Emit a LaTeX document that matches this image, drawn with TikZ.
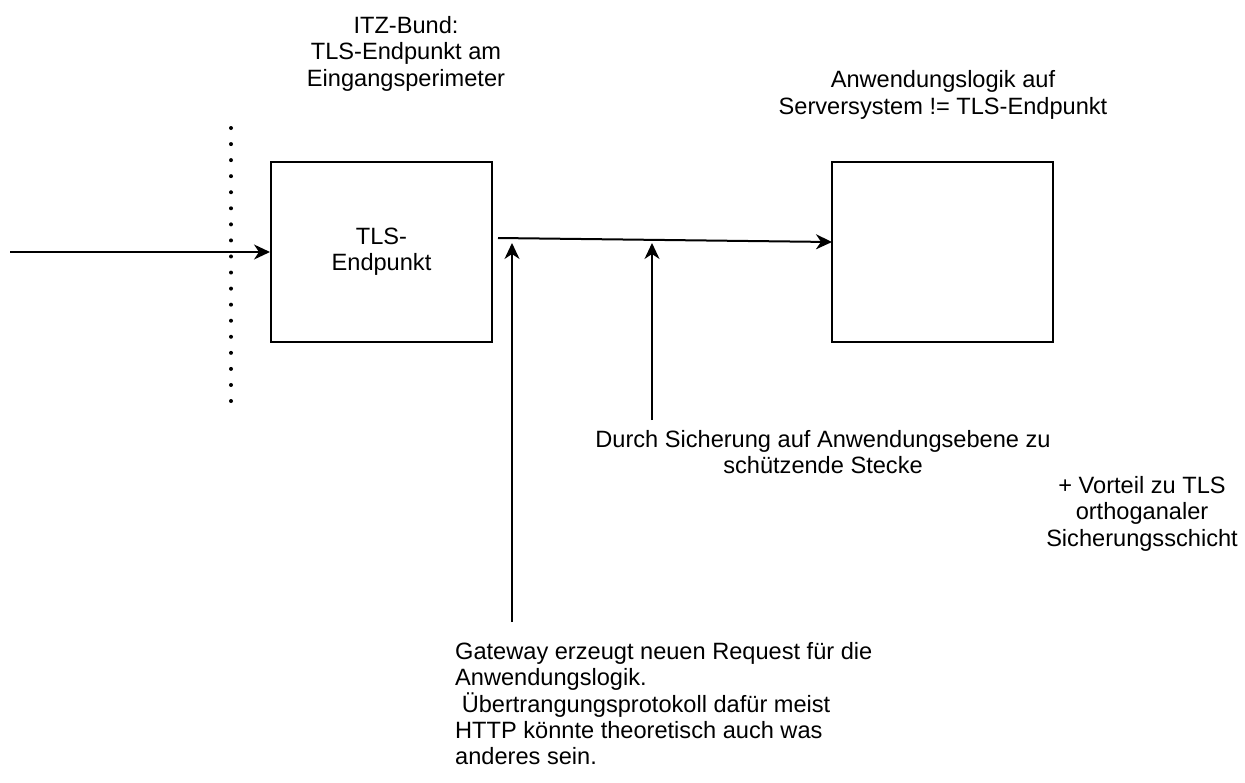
\documentclass[tikz,border=0pt]{standalone}
\usepackage{fontspec}
\setmainfont{Liberation Sans}
\usetikzlibrary{arrows.meta}
\begin{document}
\begin{tikzpicture}[x=1pt,y=-1pt,
  every node/.style={font=\fontsize{23.6}{26.4}\selectfont, inner sep=0pt, text=black},
  box/.style={draw, line width=2pt, minimum width=221pt, minimum height=180pt, align=center},
  lbl/.style={align=center},
  conn/.style={line width=2pt, -{Stealth[length=16pt,width=15pt,inset=5pt]}},
  dot/.style={fill=black}]
\useasboundingbox (0,0) rectangle (1245,782);

% boxes
\node[box] (b1) at (381.5,252) {TLS-\\Endpunkt};
\node[box] (b2) at (942.5,252) {};

% labels
\node[lbl] (itz) at (406,53.5) {ITZ-Bund:\\TLS-Endpunkt am\\Eingangsperimeter};
\node[lbl] (anw) at (943,95) {Anwendungslogik auf\\Serversystem != TLS-Endpunkt};
\node[lbl] (durch) at (823,452) {Durch Sicherung auf Anwendungsebene zu\\schützende Stecke};
\node[lbl] (vort) at (1142,513.5) {+ Vorteil zu TLS\\orthoganaler\\Sicherungsschicht};
\node[align=left, anchor=north west] (gw) at (455,642) {Gateway erzeugt neuen Request für die\\Anwendungslogik.\\\hspace*{0.278em}Übertrangungsprotokoll dafür meist\\HTTP könnte theoretisch auch was\\anderes sein.};

% perimeter (dotted line)
\foreach \i in {0,...,17} \fill[dot] (231,128+\i*16.06) circle (2pt);

% coordinates
\coordinate (in) at (10,252);
\coordinate (hs) at (498,238);
\coordinate (he) at (832,242);
\coordinate (u1s) at (512,622);
\coordinate (u1e) at (512,243);
\coordinate (u2s) at (652,420);
\coordinate (u2e) at (652,243);

% connectors
\draw[conn] (in) -- (b1.west);
\draw[conn] (hs) -- (he);
\draw[conn] (u1s) -- (u1e);
\draw[conn] (u2s) -- (u2e);
\end{tikzpicture}
\end{document}
